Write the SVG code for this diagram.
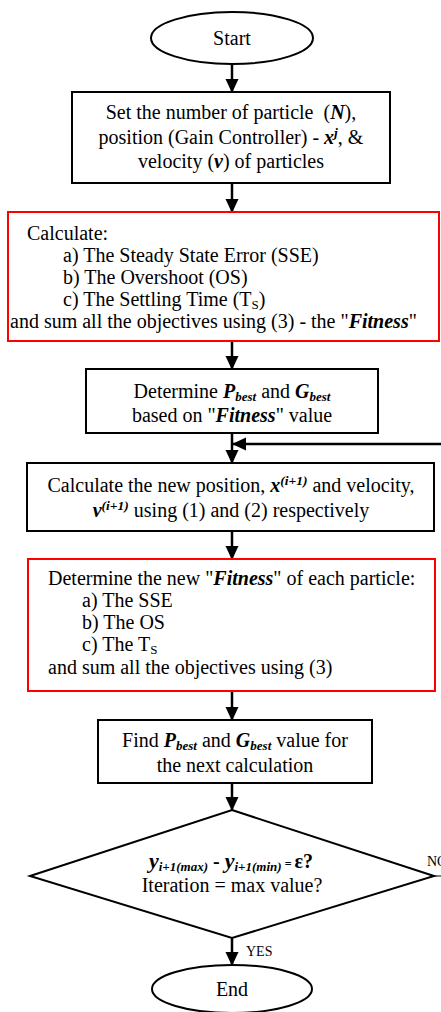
<svg xmlns="http://www.w3.org/2000/svg" width="441" height="1012" viewBox="0 0 441 1012">
<style>
text{font-family:"Liberation Serif","Times New Roman",serif;font-size:20px;fill:#000}
.c{text-anchor:middle}
.bi{font-weight:bold;font-style:italic}
.sub{font-size:13px;baseline-shift:-3px}
.sup{font-size:13.5px;baseline-shift:7px}
.shape{fill:#fff;stroke:#000;stroke-width:2}
.red{fill:#fff;stroke:#f00;stroke-width:2}
.conn{fill:none;stroke:#000;stroke-width:2.5}
.sm{font-size:14px}
</style>
<defs>
<marker id="ah" viewBox="0 0 14 14" refX="13" refY="7" markerWidth="14" markerHeight="14" markerUnits="userSpaceOnUse" orient="auto">
<path d="M0,0.5 L14,7 L0,13.5 z" fill="#000"/>
</marker>
</defs>
<g id="connectors">
<path class="conn" d="M232,64 V92" marker-end="url(#ah)"/>
<path class="conn" d="M232,183 V212" marker-end="url(#ah)"/>
<path class="conn" d="M232,341 V369" marker-end="url(#ah)"/>
<path class="conn" d="M232,433 V463" marker-end="url(#ah)"/>
<path class="conn" d="M441,444 H233" marker-end="url(#ah)"/>
<path class="conn" d="M232,531 V559" marker-end="url(#ah)"/>
<path class="conn" d="M232,691 V720" marker-end="url(#ah)"/>
<path class="conn" d="M232,783 V810" marker-end="url(#ah)"/>
<path class="conn" d="M232,938 V965" marker-end="url(#ah)"/>
<path d="M434,876 H441" stroke="#000" stroke-width="1" fill="none"/>
<text x="246" y="956" class="sm">YES</text>
<text x="427" y="866" class="sm">NO</text>
</g>
<g id="start">
<ellipse class="shape" cx="232" cy="38" rx="81" ry="26"/>
<text class="c" x="232" y="45">Start</text>
</g>
<g id="init">
<rect class="shape" x="72" y="92" width="318" height="91"/>
<text class="c" x="231" y="119">Set the number of particle &#160;(<tspan class="bi">N</tspan>),</text>
<text class="c" x="231" y="143.5">position (Gain Controller) - <tspan class="bi">x</tspan><tspan class="bi sup">j</tspan>, &amp;</text>
<text class="c" x="231" y="168">velocity (<tspan class="bi">v</tspan>) of particles</text>
</g>
<g id="calc">
<rect class="red" x="8" y="212" width="431" height="129"/>
<text x="27" y="240">Calculate:</text>
<text x="63" y="262">a) The Steady State Error (SSE)</text>
<text x="63" y="284">b) The Overshoot (OS)</text>
<text x="63" y="306">c) The Settling Time (T<tspan class="sub">S</tspan>)</text>
<text x="10" y="328">and sum all the objectives using (3) - the "<tspan class="bi">Fitness</tspan>"</text>
</g>
<g id="best">
<rect class="shape" x="86" y="369" width="292" height="64"/>
<text class="c" x="232" y="398">Determine <tspan class="bi">P</tspan><tspan class="bi sub">best</tspan> and <tspan class="bi">G</tspan><tspan class="bi sub">best</tspan></text>
<text class="c" x="232" y="422">based on "<tspan class="bi">Fitness</tspan>" value</text>
</g>
<g id="update">
<rect class="shape" x="27" y="463" width="407" height="68"/>
<text class="c" x="231" y="492">Calculate the new position, <tspan class="bi">x</tspan><tspan class="bi sup">(i+1)</tspan> and velocity,</text>
<text class="c" x="231" y="517"><tspan class="bi">v</tspan><tspan class="bi sup">(i+1)</tspan> using (1) and (2) respectively</text>
</g>
<g id="fitness">
<rect class="red" x="28" y="559" width="407" height="132"/>
<text x="48" y="585">Determine the new "<tspan class="bi">Fitness</tspan>" of each particle:</text>
<text x="82" y="607">a) The SSE</text>
<text x="82" y="629">b) The OS</text>
<text x="82" y="651">c) The T<tspan class="sub">S</tspan></text>
<text x="48" y="674">and sum all the objectives using (3)</text>
</g>
<g id="find">
<rect class="shape" x="98" y="720" width="274" height="63"/>
<text class="c" x="235" y="747">Find <tspan class="bi">P</tspan><tspan class="bi sub">best</tspan> and <tspan class="bi">G</tspan><tspan class="bi sub">best</tspan> value for</text>
<text class="c" x="235" y="772">the next calculation</text>
</g>
<g id="decision">
<polygon class="shape" points="232,810 434,876 232,938 30,876"/>
<text class="c" x="231" y="868" font-weight="bold"><tspan class="bi" font-size="22px">y</tspan><tspan class="bi sub">i+1(max)</tspan> - <tspan class="bi" font-size="22px">y</tspan><tspan class="bi sub">i+1(min)</tspan><tspan font-size="12px"> = </tspan>ε?</text>
<text class="c" x="232" y="892">Iteration = max value?</text>
</g>
<g id="end">
<ellipse class="shape" cx="232" cy="989" rx="80" ry="24"/>
<text class="c" x="232" y="996">End</text>
</g>
</svg>
